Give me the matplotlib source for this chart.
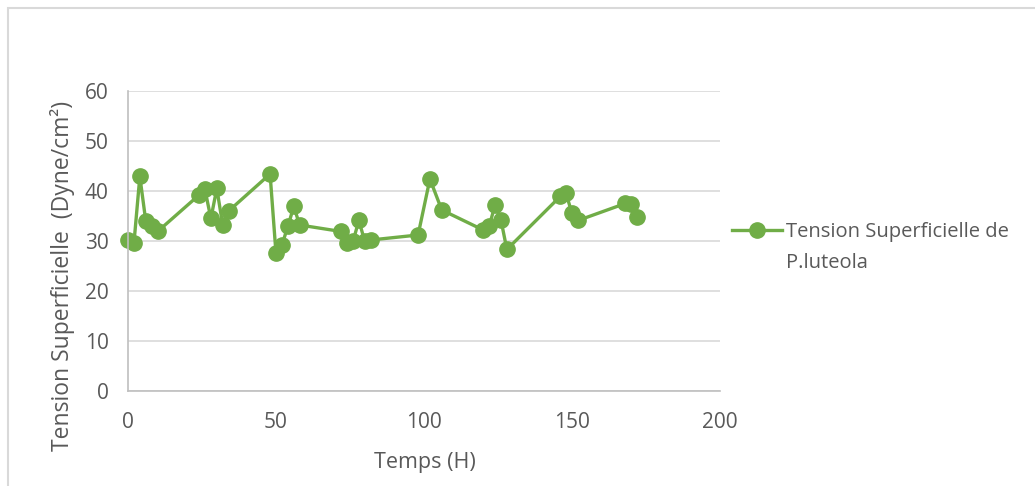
import matplotlib
matplotlib.use('Agg')
import matplotlib.pyplot as plt
from matplotlib.lines import Line2D
from matplotlib.patches import Rectangle

# temps (H) et tension superficielle (Dyne/cm2)
temps = [0, 2, 4, 6, 8, 10, 24, 26, 28, 30, 32, 34, 48, 50, 52, 54, 56, 58,
         72, 74, 76, 78, 80, 82, 98, 102, 106, 120, 122, 124, 126, 128,
         146, 148, 150, 152, 168, 170, 172]
tension = [30.2, 29.5, 42.9, 34.0, 32.9, 31.9, 39.2, 40.3, 34.5, 40.5, 33.2, 36.0,
           43.4, 27.5, 29.2, 32.9, 36.9, 33.2,
           31.9, 29.5, 29.9, 34.1, 29.9, 30.2, 31.2, 42.4, 36.2,
           32.2, 32.9, 37.2, 34.2, 28.3,
           38.9, 39.5, 35.5, 34.1, 37.5, 37.4, 34.7]
serie = ['Tension Superficielle de', 'P.luteola']

plt.rcParams['font.family'] = ['Open Sans', 'DejaVu Sans']
gris = '#595959'

fig = plt.figure(figsize=(10.35, 4.86), dpi=100)
ax = fig.add_axes([128/1035, 1 - 391/486, (720-128)/1035, 300/486])

ligne, = ax.plot(temps, tension, color='#70AD47', lw=2.4, marker='o', ms=11,
                 clip_on=False)

ax.set_xlim(0, 200)
ax.set_ylim(0, 60)
ax.set_xticks([0, 50, 100, 150, 200])
ax.set_yticks(range(0, 61, 10))
ax.grid(axis='y', color='#D9D9D9', lw=1.2)
ax.set_axisbelow(True)
for s in ['top', 'right']:
    ax.spines[s].set_visible(False)
for s in ['left', 'bottom']:
    ax.spines[s].set_color('#BFBFBF')
    ax.spines[s].set_linewidth(1.2)
ax.tick_params(length=0, labelsize=15, colors=gris)
ax.tick_params(axis='x', pad=15)
ax.tick_params(axis='y', pad=14)

ax.set_xlabel('Temps (H)', fontsize=15.5, color=gris)
ax.set_ylabel('Tension Superficielle  (Dyne/cm²)', fontsize=16.5, color=gris)
ax.xaxis.set_label_coords(0.502, -0.237)
ax.yaxis.set_label_coords(-0.111, 0.383)
ax.xaxis.label.set_va('center')
ax.yaxis.label.set_va('center')

# legende sur deux lignes, symbole sur la premiere
vide = Line2D([], [], color='none')
leg = ax.legend([ligne, vide], serie, loc='upper left',
                bbox_to_anchor=(1.0, 0.605), frameon=False,
                fontsize=14.5, labelcolor=gris, handlelength=2.5,
                borderaxespad=0.2, handletextpad=0.2, labelspacing=0.55)

# cadre du graphique
fig.patches.append(Rectangle((7.5/1035, -0.1), 1.2, 1 - 7.5/486 + 0.1,
                             transform=fig.transFigure, fill=False,
                             edgecolor='#D9D9D9', lw=1.5))

fig.savefig('out.png', dpi=100)
